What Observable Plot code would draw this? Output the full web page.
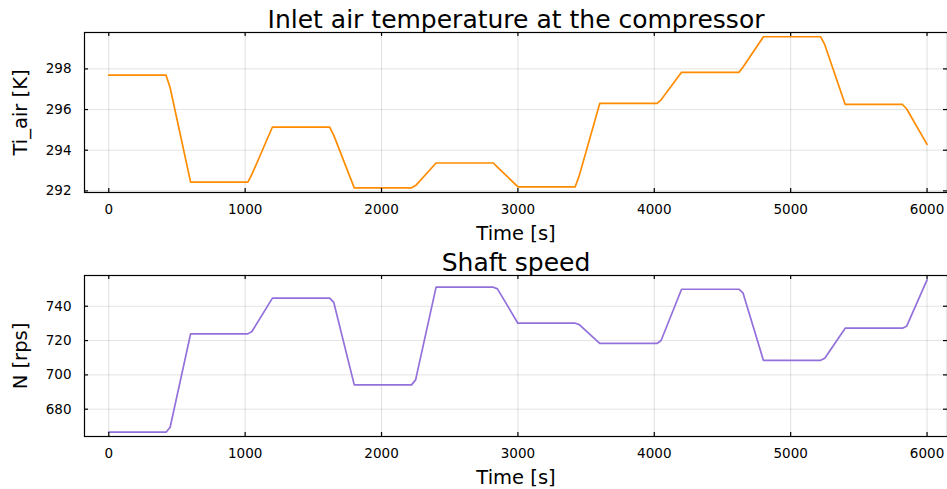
<!DOCTYPE html>
<html><head><meta charset="utf-8">
<script src="https://cdn.jsdelivr.net/npm/d3@7"></script>
<script src="https://cdn.jsdelivr.net/npm/@observablehq/plot@0.6"></script>
<style>body{margin:0;background:#fff;} svg{display:block;}</style>
</head><body><div id="chart"></div>
<script>
const time   = [0, 420, 450, 600, 1020, 1050, 1200, 1620, 1650, 1800, 2220, 2250, 2400, 2820, 2850, 3000, 3420, 3450, 3600, 4020, 4050, 4200, 4620, 4650, 4800, 5220, 5250, 5400, 5820, 5850, 6000];
const tiAir  = [297.69, 297.69, 297.07, 292.43, 292.43, 292.82, 295.14, 295.14, 294.73, 292.15, 292.15, 292.26, 293.37, 293.37, 293.17, 292.2, 292.2, 292.75, 296.3, 296.3, 296.48, 297.83, 297.83, 298.08, 299.58, 299.58, 299.19, 296.25, 296.25, 296.04, 294.29];
const shaftN = [666.6, 666.6, 669.5, 723.9, 723.9, 725.3, 744.7, 744.7, 742.2, 694.2, 694.2, 697.1, 751.1, 751.1, 750.1, 730.1, 730.1, 729.3, 718.3, 718.3, 720.0, 749.9, 749.9, 747.8, 708.5, 708.5, 709.7, 727.2, 727.2, 728.3, 755.4];
const xTicks  = [0, 1000, 2000, 3000, 4000, 5000, 6000];
const tiTicks = [292, 294, 296, 298];
const nTicks  = [680, 700, 720, 740];
const titles  = ["Inlet air temperature at the compressor", "Shaft speed"];
const yLabels = ["Ti_air [K]", "N [rps]"];
const xLabel  = "Time [s]";

function panel({values, color, yDomain, yTicks, yLabel, title, height, marginTop, marginBottom, titleDy, xLabelDy}) {
  const data = time.map((t, i) => ({t, v: values[i]}));
  const W = 947, ml = 84, mr = 0;
  const fh = height - marginTop - marginBottom;
  const fw = W - ml - mr;
  const tl = 4;
  const txt = {lineAnchor: "middle", textAnchor: "middle", fill: "#000"};
  return Plot.plot({
    width: W, height, marginLeft: ml, marginRight: mr, marginTop, marginBottom,
    style: {fontFamily: "DejaVu Sans", background: "#fff", color: "#000"},
    x: {domain: [-178, 6150]},
    y: {domain: yDomain},
    marks: [
      Plot.gridX(xTicks, {stroke: "#000", strokeOpacity: 0.13}),
      Plot.gridY(yTicks, {stroke: "#000", strokeOpacity: 0.11}),
      Plot.line(data, {x: "t", y: "v", stroke: color, strokeWidth: 1.7}),
      Plot.frame({stroke: "#000", strokeWidth: 1.2}),
      Plot.tickX(xTicks, {x: d => d, insetTop: fh - tl, stroke: "#000", strokeWidth: 1.2}),
      Plot.tickX(xTicks, {x: d => d, insetBottom: fh - tl, stroke: "#000", strokeWidth: 1.2}),
      Plot.tickY(yTicks, {y: d => d, insetRight: fw - tl, stroke: "#000", strokeWidth: 1.2}),
      Plot.tickY(yTicks, {y: d => d, insetLeft: fw - tl, stroke: "#000", strokeWidth: 1.2}),
      Plot.axisX(xTicks, {tickSize: 0, tickPadding: 12, fontSize: 13.5, label: null, tickFormat: d => String(d)}),
      Plot.axisY(yTicks, {tickSize: 0, tickPadding: 13, fontSize: 13.5, label: null, tickFormat: d => String(d)}),
      Plot.text([title], {...txt, frameAnchor: "top", dy: titleDy, fontSize: 25}),
      Plot.text([yLabel], {...txt, frameAnchor: "left", dx: -64, rotate: -90, fontSize: 19.5}),
      Plot.text([xLabel], {...txt, frameAnchor: "bottom", dy: xLabelDy, fontSize: 19.5})
    ]
  });
}

const root = document.getElementById("chart");
root.append(panel({values: tiAir, color: "#ff8c00", yDomain: [291.92, 299.79], yTicks: tiTicks,
  yLabel: yLabels[0], title: titles[0], height: 244, marginTop: 32, marginBottom: 52, titleDy: -13, xLabelDy: 41}));
root.append(panel({values: shaftN, color: "#9370db", yDomain: [664.1, 757.9], yTicks: nTicks,
  yLabel: yLabels[1], title: titles[1], height: 245, marginTop: 31, marginBottom: 53, titleDy: -13, xLabelDy: 41}));
</script></body></html>
